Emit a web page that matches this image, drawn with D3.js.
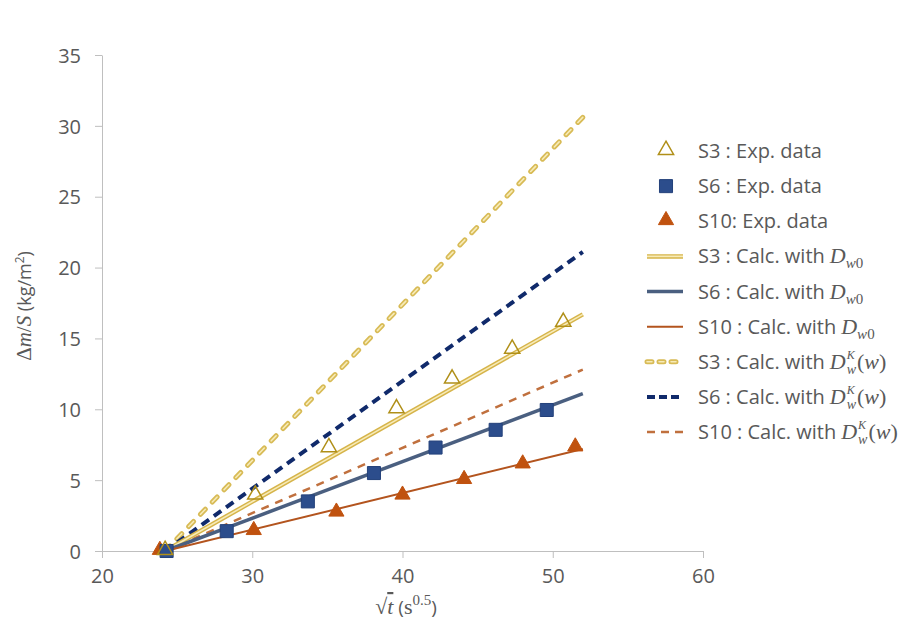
<!DOCTYPE html>
<html>
<head>
<meta charset="utf-8">
<script src="https://cdn.jsdelivr.net/npm/d3@7"></script>
<style>
  body { margin: 0; background: #fff; }
  svg { display: block; }
  .tick text { font-family: "Open Sans", sans-serif; font-size: 20px; fill: #595959; }
  .tick line { stroke: #bfbfbf; }
</style>
</head>
<body>
<svg id="chart" width="921" height="629"></svg>
<script>
// ---- data ----
var xTicks = [20, 30, 40, 50, 60];
var yTicks = [0, 5, 10, 15, 20, 25, 30, 35];

// experimental points [sqrt(t), dm/S]
var s3Exp  = [[24.2, 0], [30.2, 3.9], [35.1, 7.25], [39.6, 10.0], [43.3, 12.1], [47.3, 14.2], [50.7, 16.1]];
var s6Exp  = [[24.3, 0], [28.3, 1.4], [33.7, 3.5], [38.1, 5.5], [42.2, 7.3], [46.2, 8.55], [49.6, 9.95]];
var s10Exp = [[23.85, 0], [30.1, 1.4], [35.6, 2.7], [40.0, 3.9], [44.1, 5.0], [48.0, 6.1], [51.5, 7.3]];

// calculated lines (start, end)
var s3Dw0  = [[24.2, 0], [52, 16.7]];
var s6Dw0  = [[24.2, 0], [52, 11.1]];
var s10Dw0 = [[24.2, 0], [52, 7.2]];
var s3DwK  = [[24.2, 0], [52, 30.6]];
var s6DwK  = [[24.2, 0], [52, 21.1]];
var s10DwK = [[24.2, 0], [52, 12.8]];

var svg = d3.select("#chart");
svg.append("rect").attr("width", 921).attr("height", 629).attr("fill", "#fff");

var xScale = d3.scaleLinear().domain([20, 60]).range([102, 703]);
var yScale = d3.scaleLinear().domain([0, 35]).range([551, 55]);

// axes
var xAxis = d3.axisBottom(xScale).tickValues(xTicks).tickSize(7).tickSizeOuter(0).tickPadding(11);
var yAxis = d3.axisLeft(yScale).tickValues(yTicks).tickSize(7).tickSizeOuter(0).tickPadding(14);

var gx = svg.append("g").attr("transform", "translate(0,551)").call(xAxis);
var gy = svg.append("g").attr("transform", "translate(102,0)").call(yAxis);
gx.select(".domain").attr("stroke", "#bfbfbf");
gy.select(".domain").attr("stroke", "#bfbfbf");
gy.selectAll(".tick text").attr("dy", "0.36em");

var line = d3.line().x(function(d) { return xScale(d[0]); }).y(function(d) { return yScale(d[1]); });

// line styles
var styles = {
    s3Dw0:  { outer: "#d6b44a", inner: "#f7ebb8", w: 4.5, wi: 1.6, dash: null },
    s6Dw0:  { outer: "#4a5f80", w: 3.5, dash: null },
    s10Dw0: { outer: "#b3541e", w: 2, dash: null },
    s3DwK:  { outer: "#d8bb56", inner: "#f7ebb8", w: 5, wi: 1.6, dash: "7,10", cap: "round" },
    s6DwK:  { outer: "#102a6b", w: 4, dash: "9,6" },
    s10DwK: { outer: "#c0703e", w: 2.5, dash: "8,7" }
};

function drawLine(g, data, st, dash) {
    var d = dash || st.dash;
    g.append("path")
        .attr("d", line(data))
        .attr("fill", "none")
        .attr("stroke", st.outer)
        .attr("stroke-width", st.w)
        .attr("stroke-dasharray", d)
        .attr("stroke-linecap", st.cap || "butt");
    if (st.inner) {
        g.append("path")
            .attr("d", line(data))
            .attr("fill", "none")
            .attr("stroke", st.inner)
            .attr("stroke-width", st.wi)
            .attr("stroke-dasharray", d)
            .attr("stroke-linecap", st.cap || "butt");
    }
}

var plot = svg.append("g");
drawLine(plot, s3DwK, styles.s3DwK);
drawLine(plot, s6DwK, styles.s6DwK);
drawLine(plot, s10DwK, styles.s10DwK);
drawLine(plot, s3Dw0, styles.s3Dw0);
drawLine(plot, s6Dw0, styles.s6Dw0);
drawLine(plot, s10Dw0, styles.s10Dw0);

// markers
var triSym = d3.symbol().type(d3.symbolTriangle).size(100);
var sqSym = d3.symbol().type(d3.symbolSquare).size(170);

var markers = {
    s3:  { sym: triSym, fill: "none", stroke: "#b08f18", sw: 1.5, dy: -1 },
    s6:  { sym: sqSym, fill: "#2c4d8c", stroke: "#23407a", sw: 1, dy: 0 },
    s10: { sym: triSym, fill: "#c0520f", stroke: "#c0520f", sw: 1, dy: -1 }
};

function drawMarkers(data, m) {
    plot.selectAll(null).data(data).enter().append("path")
        .attr("d", m.sym)
        .attr("transform", function(d) { return "translate(" + xScale(d[0]) + "," + (yScale(d[1]) + m.dy) + ")"; })
        .attr("fill", m.fill)
        .attr("stroke", m.stroke)
        .attr("stroke-width", m.sw);
}
drawMarkers(s10Exp, markers.s10);
drawMarkers(s6Exp, markers.s6);
drawMarkers(s3Exp, markers.s3);

// axis titles
var textFont = "'Open Sans', sans-serif";
var mathFont = "'Liberation Serif', serif";

var xt = svg.append("text")
    .attr("x", 406).attr("y", 614)
    .attr("text-anchor", "middle")
    .attr("font-family", textFont).attr("font-size", 19).attr("fill", "#595959");
xt.append("tspan").attr("font-family", mathFont).attr("font-size", 22).text("\u221A");
xt.append("tspan").attr("font-family", mathFont).attr("font-style", "italic").attr("font-size", 22)
    .attr("text-decoration", "overline").text("t");
xt.append("tspan").text(" (");
xt.append("tspan").attr("font-family", mathFont).attr("font-size", 22).text("s");
xt.append("tspan").attr("font-family", mathFont).attr("font-size", 15).attr("dy", -9).text("0.5");
xt.append("tspan").attr("dy", 9).text(")");

var yt = svg.append("text")
    .attr("transform", "translate(31,306) rotate(-90)")
    .attr("text-anchor", "middle")
    .attr("font-family", textFont).attr("font-size", 18).attr("fill", "#595959");
yt.append("tspan").attr("font-family", mathFont).attr("font-size", 21).text("\u0394");
yt.append("tspan").attr("font-family", mathFont).attr("font-style", "italic").attr("font-size", 21).text("m");
yt.append("tspan").attr("font-family", mathFont).attr("font-size", 21).text("/");
yt.append("tspan").attr("font-family", mathFont).attr("font-style", "italic").attr("font-size", 21).text("S");
yt.append("tspan").text(" (kg/m");
yt.append("tspan").attr("font-size", 12).attr("dy", -7).text("2");
yt.append("tspan").attr("dy", 7).text(")");

// legend
var legendLabels = ["S3 : Exp. data", "S6 : Exp. data", "S10: Exp. data",
    "S3 : Calc. with", "S6 : Calc. with", "S10 : Calc. with",
    "S3 : Calc. with", "S6 : Calc. with", "S10 : Calc. with"];
var legendKind = ["s3", "s6", "s10", "s3Dw0", "s6Dw0", "s10Dw0", "s3DwK", "s6DwK", "s10DwK"];
var legendMath = [null, null, null, "Dw0", "Dw0", "Dw0", "DwK", "DwK", "DwK"];

var legY = d3.scaleLinear().domain([0, 8]).range([151, 432]);
var leg = svg.append("g");

legendKind.forEach(function(k, i) {
    var y = legY(i);
    if (markers[k]) {
        var m = markers[k];
        leg.append("path").attr("d", m.sym)
            .attr("transform", "translate(666," + (y + m.dy) + ")")
            .attr("fill", m.fill).attr("stroke", m.stroke).attr("stroke-width", m.sw);
    } else {
        var st = styles[k];
        var legDash = st.dash ? (k === "s3DwK" ? "5,7" : (k === "s10DwK" ? "8,6" : "8,4")) : null;
        drawLine(leg, [[0, 0], [1, 0]].map(function(p) { return [xScale.invert(647 + p[0] * 36), yScale.invert(y)]; }), st, legDash);
    }
    var t = leg.append("text").attr("x", 698).attr("y", y + 7)
        .attr("font-family", textFont).attr("font-size", 20).attr("fill", "#595959")
        .text(legendLabels[i]);
    if (legendMath[i]) {
        var x0 = 698 + t.node().getComputedTextLength() + 5;
        var mg = leg.append("g").attr("fill", "#595959")
            .attr("font-family", mathFont).attr("font-style", "italic");
        var d = mg.append("text").attr("x", x0).attr("y", y + 7).attr("font-size", 22).text("D");
        var dw = d.node().getComputedTextLength();
        if (legendMath[i] === "Dw0") {
            var sub = mg.append("text").attr("x", x0 + dw).attr("y", y + 12).attr("font-size", 15);
            sub.append("tspan").text("w");
            sub.append("tspan").attr("font-style", "normal").text("0");
        } else {
            var sx = x0 + dw + 1;
            mg.append("text").attr("x", sx).attr("y", y - 3).attr("font-size", 12).text("K");
            var sw = mg.append("text").attr("x", sx).attr("y", y + 12).attr("font-size", 14).text("w");
            var wl = sw.node().getComputedTextLength();
            var rest = mg.append("text").attr("x", sx + wl + 1).attr("y", y + 7).attr("font-size", 22);
            rest.append("tspan").attr("font-style", "normal").text("(");
            rest.append("tspan").text("w");
            rest.append("tspan").attr("font-style", "normal").text(")");
        }
    }
});
</script>
</body>
</html>
